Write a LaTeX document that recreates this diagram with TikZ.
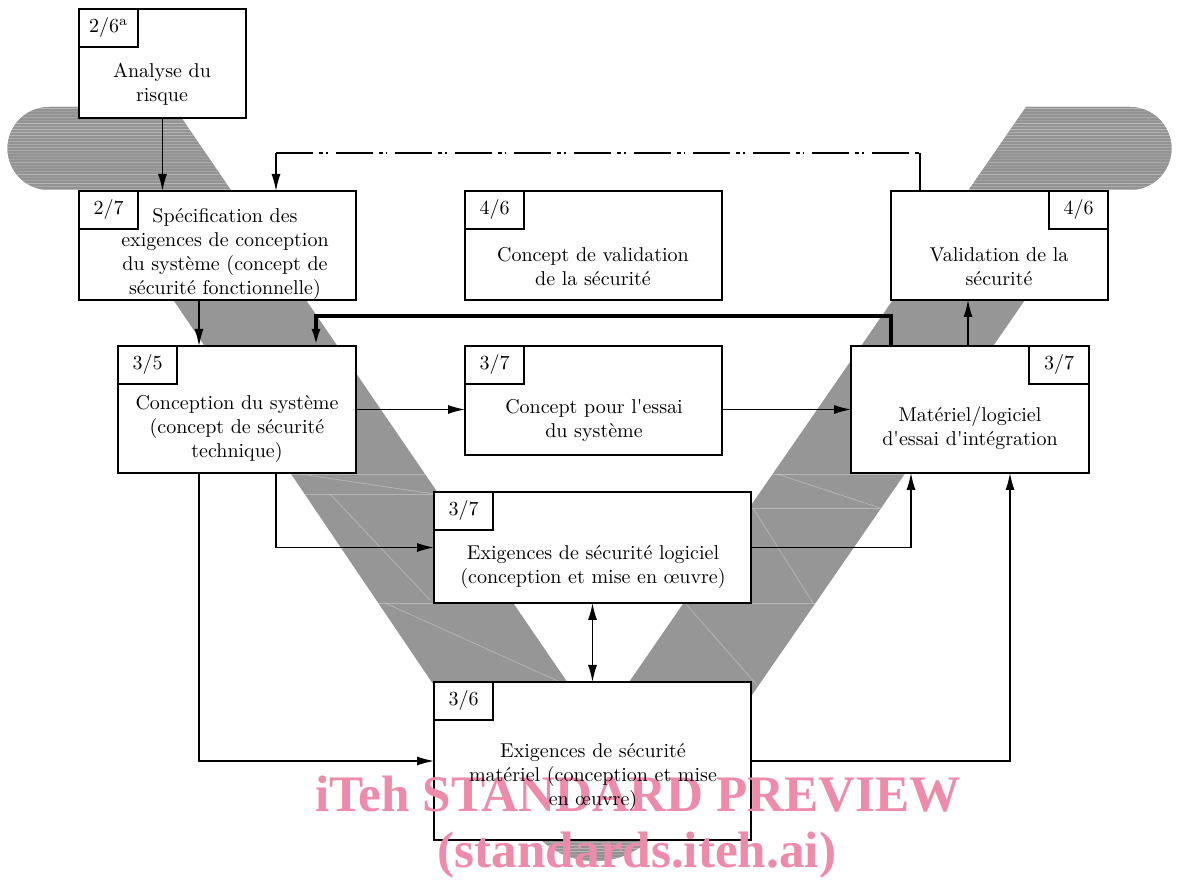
\documentclass[tikz,border=0pt]{standalone}
\usepackage{fontspec}
\newfontfamily\wmfont{Liberation Serif}
\usepackage{tikz}
\usetikzlibrary{calc,fit,arrows.meta}
\definecolor{band}{HTML}{969696}
\definecolor{capfill}{HTML}{939393}
\definecolor{wmark}{HTML}{EE8AAA}
\tikzset{
  box/.style={draw=black, fill=white, line width=1.3pt, inner sep=0pt, outer sep=0pt},
  tagbox/.style={box, minimum width=29.5pt, minimum height=19pt, font=\fontsize{10}{12}\selectfont},
  txt/.style={align=center, inner sep=0pt, font=\fontsize{10}{12}\selectfont},
  conn/.style={draw=black, line width=0.65pt},
  arr/.style={conn, -{Latex[length=8.5pt,width=4.5pt]}},
  darr/.style={conn, {Latex[length=8.5pt,width=4.5pt]}-{Latex[length=8.5pt,width=4.5pt]}},
  feed/.style={conn, dash pattern=on 18.5pt off 3pt on 2pt off 1.5pt on 0.8pt off 4pt},
  heavy/.style={draw=black, line width=1.6pt, -{Latex[length=8.5pt,width=4.5pt]}},
  seam/.style={draw=white, opacity=0.3, line width=0.35pt},
  wm/.style={text=wmark, inner sep=0pt, font=\wmfont\bfseries\fontsize{25.6}{28}\selectfont}
}
% V band outline, pixel units
\def\vband{(49,107) -- (174,107) -- (598,727) -- (1026,107) -- (1130,107)
  arc[start angle=-90, end angle=90, radius=41.5] -- (1101,190)
  -- (661,826.6) arc[start angle=34.7, end angle=145.9, radius=80]
  -- (99,190) -- (49,190) arc[start angle=90, end angle=270, radius=41.5] -- cycle}

\begin{document}
\begin{tikzpicture}[x=0.5pt, y=-0.5pt]
  \useasboundingbox (0,0) rectangle (1179,881);
  \fill[band] \vband;
  \begin{scope}
    \clip \vband;
    \fill[capfill] (0,105) rectangle (1179,191);
    \fill[capfill] (0,826) rectangle (1179,881);
    \pgfmathsetseed{7}
    \foreach \y in {109,112,...,190,828,831,...,880} {
      \pgfmathsetmacro\op{0.08+0.3*rnd}
      \draw[white, opacity=\op, line width=0.5pt] (0,\y) -- (1179,\y);
    }
    \draw[seam] (0,474) -- (1179,474);
    \draw[seam] (0,494) -- (600,494);
    \draw[seam] (600,508) -- (1179,508);
    \draw[seam] (0,603) -- (1179,603);
    \draw[seam] (777,474) -- (880,508);
    \draw[seam] (753,508) -- (813,603);
    \draw[seam] (685,603) -- (757,685);
    \draw[seam] (300,474) -- (434,494);
    \draw[seam] (330,494) -- (430,600);
    \draw[seam] (385,603) -- (560,682);
  \end{scope}

  \node[box, fit={(79,9) (246,118)}] (risk) {};
  \node[box, fit={(79,191) (356,300)}] (spec) {};
  \node[box, fit={(465,191) (722,300)}] (valconc) {};
  \node[box, fit={(891,191) (1108,300)}] (valid) {};
  \node[box, fit={(118,346) (356,473)}] (sysdes) {};
  \node[box, fit={(465,346) (722,455)}] (sytest) {};
  \node[box, fit={(851,346) (1089,473)}] (intg) {};
  \node[box, fit={(434,492) (751,603)}] (swreq) {};
  \node[box, fit={(434,682) (751,840)}] (hwreq) {};

  \node[tagbox, anchor=north west] (risk-t) at (risk.north west) {2/6\textsuperscript{a}};
  \node[tagbox, anchor=north west] (spec-t) at (spec.north west) {2/7};
  \node[tagbox, anchor=north west] (valconc-t) at (valconc.north west) {4/6};
  \node[tagbox, anchor=north east] (valid-t) at (valid.north east) {4/6};
  \node[tagbox, anchor=north west] (sysdes-t) at (sysdes.north west) {3/5};
  \node[tagbox, anchor=north west] (sytest-t) at (sytest.north west) {3/7};
  \node[tagbox, anchor=north east, minimum width=30pt] (intg-t) at (intg.north east) {3/7};
  \node[tagbox, anchor=north west] (swreq-t) at (swreq.north west) {3/7};
  \node[tagbox, anchor=north west] (hwreq-t) at (hwreq.north west) {3/6};

  % connectors
  \coordinate (s1) at ($(spec.south west)+(120,0)$);
  \coordinate (fbL) at ($(spec.north west)+(197,0)$);
  \coordinate (fbR) at ($(valid.north west)+(29,0)$);
  \coordinate (fbT) at ($(fbR)+(0,-38)$);
  \coordinate (t1) at ($(intg.north west)+(40,0)$);
  \coordinate (t2) at ($(sysdes.north west)+(198,0)$);
  \coordinate (u1) at ($(intg.north west)+(117,0)$);
  \coordinate (e1) at ($(sysdes.south west)+(158,0)$);
  \coordinate (e2) at ($(sysdes.south west)+(81,0)$);
  \coordinate (g1) at ($(intg.south west)+(60,0)$);
  \coordinate (g2) at ($(intg.south west)+(159,0)$);

  \draw[arr] (risk.south) -- (risk.south |- spec.north);
  \draw[feed] (fbL |- fbT) -- (fbT);
  \draw[conn] (fbT) -- (fbR);
  \draw[arr] (fbL |- fbT) -- (fbL);
  \draw[arr] (s1) -- (s1 |- sysdes.north);
  \draw[heavy] (t1) -- ++(0,-30) -| (t2);
  \draw[arr] (u1) -- (u1 |- valid.south);
  \draw[arr] (sysdes.east) -- (sysdes.east -| sytest.west);
  \draw[arr] (intg.west -| sytest.east) -- (intg.west);
  \draw[arr] (e1) |- (swreq.west);
  \draw[arr] (e2) |- (hwreq.west);
  \draw[arr] (swreq.east) -| (g1);
  \draw[arr] (hwreq.east) -| (g2);
  \draw[darr] (swreq.south) -- (hwreq.north);

  \node[wm, anchor=base] (wm1) at (638,812) {iTeh STANDARD PREVIEW};
  \node[wm, anchor=base] (wm2) at (637,868) {(standards.iteh.ai)};

  \node[txt] (risk-x) at (162,84) {Analyse du\\risque};
  \node[txt] (spec-x) at (225,254) {Spécification des\\exigences de conception\\du système (concept de\\sécurité fonctionnelle)};
  \node[txt] (valconc-x) at (593,267) {Concept de validation\\de la sécurité};
  \node[txt] (valid-x) at (999,267) {Validation de la\\sécurité};
  \node[txt] (sysdes-x) at (237,429) {Conception du système\\(concept de sécurité\\technique)};
  \node[txt] (sytest-x) at (594,421) {Concept pour l\textquotesingle essai\\du système};
  \node[txt] (intg-x) at (970,428) {Matériel/logiciel\\d\textquotesingle essai d\textquotesingle intégration};
  \node[txt] (swreq-x) at (593,567) {Exigences de sécurité logiciel\\(conception et mise en œuvre)};
  \node[txt] (hwreq-x) at (593,777) {Exigences de sécurité\\matériel (conception et mise\\en œuvre)};
\end{tikzpicture}
\end{document}
